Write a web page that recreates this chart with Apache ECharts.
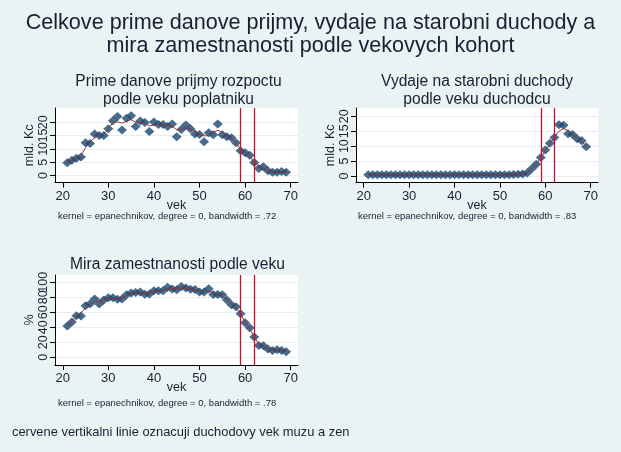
<!DOCTYPE html>
<html><head><meta charset="utf-8">
<script src="https://cdn.jsdelivr.net/npm/echarts@6/dist/echarts.min.js"></script>
<style>html,body{margin:0;padding:0;background:#eaf2f3}#c{width:621px;height:452px}</style>
</head><body><div id="c"></div>
<script>
// ---- data ----
const ages = [21,22,23,24,25,26,27,28,29,30,31,32,33,34,35,36,37,38,39,40,41,42,43,44,45,46,47,48,49,50,51,52,53,54,55,56,57,58,59,60,61,62,63,64,65,66,67,68,69];
const taxes = [4.8,5.7,6.5,7.0,12.3,12.0,15.6,15.0,15.0,17.6,20.6,22.2,17.1,21.5,22.5,18.4,20.5,19.9,16.5,20.1,19.2,19.2,18.4,19.4,14.6,17.3,19.0,17.6,15.6,15.4,12.7,16.1,15.3,19.4,15.3,14.6,14.2,12.3,9.3,8.6,7.6,4.9,2.6,3.3,1.8,1.2,1.2,1.5,1.2];
const taxSmooth = [4.8,5.6,6.3,7.5,10.5,12.5,14.3,15.0,15.6,17.3,20.0,20.2,19.7,20.5,21.0,20.0,19.8,19.8,18.7,19.0,19.1,19.0,18.8,18.6,17.2,17.3,18.2,17.5,16.5,15.4,14.9,15.0,16.1,17.0,16.3,14.8,14.0,12.3,9.8,8.5,7.2,5.0,3.4,2.7,2.0,1.4,1.3,1.4,1.3];
const pensions = [0.4,0.4,0.4,0.4,0.4,0.4,0.4,0.4,0.4,0.4,0.4,0.4,0.4,0.4,0.4,0.4,0.4,0.4,0.4,0.4,0.4,0.4,0.4,0.4,0.4,0.4,0.4,0.4,0.4,0.4,0.4,0.4,0.5,0.6,0.7,1.0,2.4,3.9,6.2,8.7,11.0,12.9,17.2,17.0,14.2,13.9,12.5,11.8,9.8];
const pensionSmooth = [0.4,0.4,0.4,0.4,0.4,0.4,0.4,0.4,0.4,0.4,0.4,0.4,0.4,0.4,0.4,0.4,0.4,0.4,0.4,0.4,0.4,0.4,0.4,0.4,0.4,0.4,0.4,0.4,0.4,0.4,0.4,0.4,0.45,0.55,0.75,1.2,2.4,4.0,6.0,8.5,10.8,13.0,15.0,16.0,15.2,13.8,12.7,11.6,10.0];
const employment = [41.8,47.2,55.5,55.2,68.6,71.5,77.8,71.0,76.4,79.5,79.5,77.5,77.7,83.5,85.6,86.4,87.0,84.2,84.4,88.6,88.8,88.6,93.3,91.0,90.0,94.5,92.5,90.6,90.3,87.2,87.2,91.5,83.7,83.7,83.5,76.4,70.1,67.5,58.1,46.1,39.5,27.0,15.7,15.5,11.0,9.2,10.1,9.2,7.5];
const employmentSmooth = [42,47.5,54,59,66,71,74,75,77,78.5,79,78.5,79.5,82.5,85,86,86,85.5,86,88,88.8,89.5,91.5,91.5,91,92.5,92,91,90,88,88,88.5,86,84,82.5,77,71,66,58,47,38,27,18,14.5,11.5,9.5,9.5,9.2,8];
const retirementAges = [59, 62];
const xTicks = [20,30,40,50,60,70];
const moneyTicks = [0,5,10,15,20];
const pctTicks = [0,20,40,60,80,100];

// ---- styling ----
const F = '"Liberation Sans", Arial, sans-serif';
const TXT = '#1a1f33';
const NAVY = '#1a476f';
const MAROON = '#90353b';
const RED = '#c8102e';
const GRIDC = '#e6eef1';

function pairs(ys){ return ages.map((a,i)=>[a, ys[i]]); }
// split tick list into alternate labels so ECharts' edge-overlap check keeps every label
const evenTicks = t => t.filter((v,i)=>i%2===0);
const oddTicks  = t => t.filter((v,i)=>i%2===1);

function xAx(gi){
  return {type:'value', gridIndex:gi, min:18.3, max:71.6,
    name:'vek', nameLocation:'middle', nameGap:16, nameMoveOverlap:false,
    nameTextStyle:{fontSize:12.5, color:TXT, fontFamily:F, verticalAlign:'top'},
    axisLine:{show:true, onZero:false, lineStyle:{color:'#000', width:1}},
    axisTick:{show:true, length:5, customValues:xTicks, lineStyle:{color:'#000'}},
    axisLabel:{customValues:xTicks, fontSize:13, color:TXT, fontFamily:F, margin:7},
    splitLine:{show:false}};
}
function yAx(gi, min, max, ticks, name){
  return {type:'value', gridIndex:gi, min:min, max:max, position:'left', offset:0,
    name:name, nameLocation:'middle', nameRotate:90, nameGap:19, nameMoveOverlap:false,
    nameTextStyle:{fontSize:12.5, color:TXT, fontFamily:F},
    axisLine:{show:true, onZero:false, lineStyle:{color:'#000', width:1}},
    axisTick:{show:true, length:5, customValues:ticks, lineStyle:{color:'#000'}},
    axisLabel:{customValues:evenTicks(ticks), rotate:90, fontSize:12.5, color:TXT, fontFamily:F, margin:5},
    splitLine:{show:true, lineStyle:{color:GRIDC, width:1}}};
}
function yAxAlt(gi, min, max, ticks){
  return {type:'value', gridIndex:gi, min:min, max:max, position:'left', offset:0,
    axisLine:{show:false}, axisTick:{show:false},
    axisLabel:{customValues:oddTicks(ticks), rotate:90, fontSize:12.5, color:TXT, fontFamily:F, margin:5},
    splitLine:{show:false}};
}
function scatter(gi, ys){
  return {type:'scatter', xAxisIndex:gi, yAxisIndex:gi, data:pairs(ys),
    symbol:'diamond', symbolSize:[10,9], itemStyle:{color:NAVY}, z:2,
    markLine:{silent:true, symbol:['none','none'], label:{show:false},
      lineStyle:{color:RED, width:1.3, type:'solid'},
      data: retirementAges.map(v=>({xAxis:v})), z:4}};
}
function smooth(gi, ys){
  return {type:'line', xAxisIndex:gi, yAxisIndex:gi, data:pairs(ys),
    showSymbol:false, smooth:false, lineStyle:{color:MAROON, width:1}, z:3};
}
const ts = (size, lh)=>({fontSize:size, color:TXT, fontFamily:F, fontWeight:'normal', lineHeight:lh});

const yRanges = [[-2.67,25.38,moneyTicks,'mld. Kc'], [-2.25,22.8,moneyTicks,'mld. Kc'], [-10.3,109.7,pctTicks,'%']];

const chart = echarts.init(document.getElementById('c'), null, {renderer:'canvas'});
chart.setOption({
  animation:false,
  backgroundColor:'#eaf2f3',
  title:[
    {text:'Celkove prime danove prijmy, vydaje na starobni duchody a\nmira zamestnanosti podle vekovych kohort', left:310.5, top:12, padding:0, textAlign:'center', textStyle:ts(21.6, 23)},
    {text:'Prime danove prijmy rozpoctu\npodle veku poplatniku', left:178.5, top:73, padding:0, textAlign:'center', textStyle:ts(15.6, 18)},
    {text:'Vydaje na starobni duchody\npodle veku duchodcu', left:477, top:73, padding:0, textAlign:'center', textStyle:ts(15.6, 18)},
    {text:'Mira zamestnanosti podle veku', left:177.5, top:256, padding:0, textAlign:'center', textStyle:ts(15.6, 18)},
    {text:'kernel = epanechnikov, degree = 0, bandwidth = .72', left:58, top:211, padding:0, textStyle:ts(9.5, 11)},
    {text:'kernel = epanechnikov, degree = 0, bandwidth = .83', left:358, top:211, padding:0, textStyle:ts(9.5, 11)},
    {text:'kernel = epanechnikov, degree = 0, bandwidth = .78', left:58, top:398, padding:0, textStyle:ts(9.5, 11)},
    {text:'cervene vertikalni linie oznacuji duchodovy vek muzu a zen', left:12, top:425, padding:0, textStyle:ts(12.9, 15)}
  ],
  grid:[
    {left:55, top:108, width:243, height:74.6, show:true, backgroundColor:'#fff', borderWidth:0, containLabel:false},
    {left:356, top:108, width:242, height:74.7, show:true, backgroundColor:'#fff', borderWidth:0, containLabel:false},
    {left:55, top:275, width:243, height:90, show:true, backgroundColor:'#fff', borderWidth:0, containLabel:false}
  ],
  xAxis:[xAx(0), xAx(1), xAx(2)],
  yAxis:[
    yAx(0, ...yRanges[0]), yAx(1, ...yRanges[1]), yAx(2, ...yRanges[2]),
    yAxAlt(0, ...yRanges[0]), yAxAlt(1, ...yRanges[1]), yAxAlt(2, ...yRanges[2])
  ],
  series:[
    scatter(0, taxes), smooth(0, taxSmooth),
    scatter(1, pensions), smooth(1, pensionSmooth),
    scatter(2, employment), smooth(2, employmentSmooth)
  ]
});
</script></body></html>
